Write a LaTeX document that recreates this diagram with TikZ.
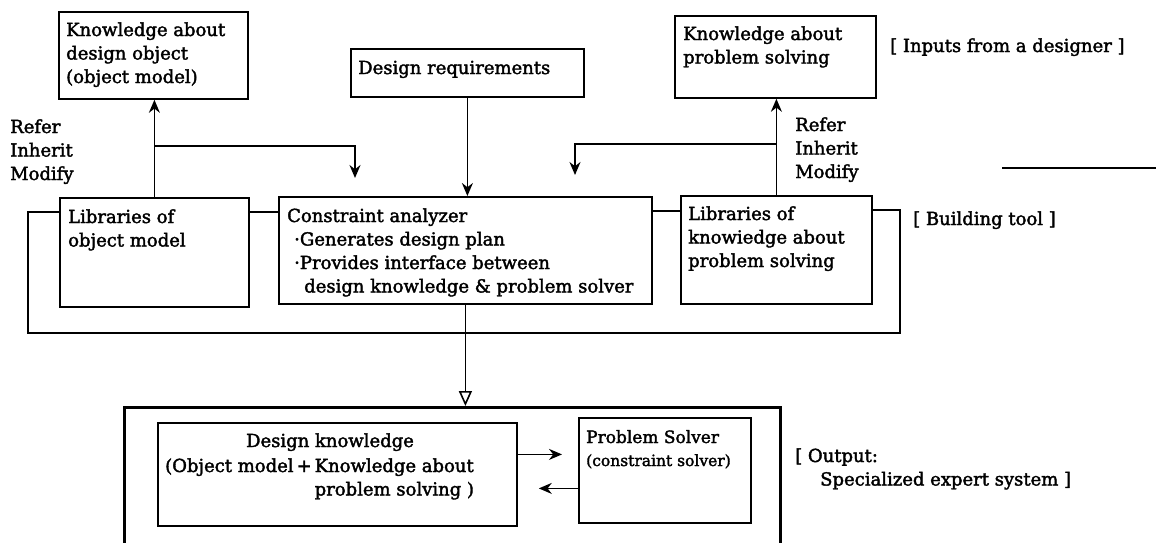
\documentclass[tikz,border=0pt]{standalone}
\usepackage{fontspec}
\setmainfont{DejaVu Serif}[FakeBold=2]
\usetikzlibrary{arrows.meta}
% multi-line text block whose base is the first line's baseline
\newcommand\ml[1]{\begin{tabular}[t]{@{}l@{}}#1\end{tabular}}
\begin{document}
\begin{tikzpicture}[x=1pt,y=-1pt,
  box/.style={draw,line width=1.8pt,rectangle,inner sep=0pt,anchor=north west},
  txt/.style={inner sep=0pt,anchor=base west,font=\fontsize{18}{23.5}\selectfont},
  link/.style={line width=1.7pt},
  arr/.style={line width=1.6pt,-{Stealth[length=13pt,width=11pt]}},
  hollow/.style={line width=1.6pt,-{Triangle[open,length=15pt,width=13pt,line width=1.6pt]}},
  loopline/.style={line width=2.4pt},
]
\useasboundingbox (0,0) rectangle (1156,542);
\clip (0,0) rectangle (1156,542);

% ---- boxes ----
\node[box,minimum width=189pt,minimum height=87pt]  (kobj) at (58,11)  {};
\node[box,minimum width=233pt,minimum height=48pt]  (req)  at (350,48) {};
\node[box,minimum width=201pt,minimum height=82pt]  (kps)  at (674,15) {};
\node[box,minimum width=189pt,minimum height=109pt] (libo) at (59,197) {};
\node[box,minimum width=373pt,minimum height=107pt] (ca)   at (278,196) {};
\node[box,minimum width=191pt,minimum height=108pt] (libp) at (680,195) {};
\node[box,line width=2.5pt,minimum width=656pt,minimum height=170pt] (out) at (123,406) {};
\node[box,minimum width=359pt,minimum height=103pt] (dk)   at (157,422) {};
\node[box,minimum width=172pt,minimum height=105pt] (ps)   at (578,417) {};

% ---- texts ----
\node[txt] (tkobj) at (66,36)  {\ml{Knowledge about\\design object\\(object model)}};
\node[txt] (rimo)  at (10,133) {\ml{Refer\\Inherit\\Modify}};
\node[txt] (treq)  at (358,74) {Design requirements};
\node[txt] (tkps)  at (683,40) {\ml{Knowledge about\\problem solving}};
\node[txt] (tin)   at (890,52) {[ Inputs from a designer ]};
\node[txt] (rimp)  at (795,131) {\ml{Refer\\Inherit\\Modify}};
\node[txt] (tlibo) at (68,223) {\ml{Libraries of\\object model}};
\node[txt] (tca)   at (287,222) {\ml{Constraint analyzer\\
  \hspace{7pt}·Generates design plan\\
  \hspace{7pt}·Provides interface between\\
  \hspace{17pt}design knowledge \& problem solver}};
\node[txt] (tlibp) at (688,220) {\ml{Libraries of\\knowiedge about\\problem solving}};
\node[txt] (tbt)   at (913,225) {[ Building tool ]};
\node[txt,anchor=base] (tdkh) at (330,447) {Design knowledge};
\node[txt] (tdk)   at (165,472) {\begin{tabular}[t]{@{}l@{}l@{}}(Object model\,+\,&Knowledge about\\ &problem solving~)\end{tabular}};
\node[txt,font=\fontsize{17}{23}\selectfont] (tps) at (586,443)
  {\ml{Problem Solver\\{\fontsize{15.5}{23}\selectfont(constraint solver)}}};
\node[txt] (tout)  at (795,462) {\ml{[ Output:\\\hspace{25pt}Specialized expert system ]}};

% ---- connectors ----
\coordinate (jo) at (153,146);
\coordinate (to) at (355,178);
\coordinate (jp) at (772,144);
\coordinate (tp) at (575,175);

\draw[arr] (libo.north) -- (libo.north |- kobj.south);
\draw[arr] (jo -| libo.north) -| (to);
\draw[arr] (req.south) -- (req.south |- ca.north);
\draw[arr] (libp.north) -- (libp.north |- kps.south);
\draw[arr] (jp -| libp.north) -| (tp);

\draw[link] ([yshift=-15pt]libo.north east) -- ([yshift=-15pt]libo.north east -| ca.west);
\draw[link] ([yshift=-15pt]ca.north east) -- ([yshift=-15pt]ca.north east -| libp.west);

% building-tool enclosure
\draw[loopline] ([yshift=-15pt]libp.north east) -| (900,333) -| (28,212)
  -- ([yshift=-15pt]libo.north west);

\draw[hollow] (ca.south) -- (ca.south |- out.north);

\draw[arr,shorten >=16pt] ([yshift=20pt]dk.east) -- ([yshift=20pt]dk.east -| ps.west);
\draw[arr,shorten >=21pt] ([yshift=-18pt]ps.west) -- ([yshift=-18pt]ps.west -| dk.east);

% short rule at the right margin
\draw[link] (1002,168) -- (1156,168);
\end{tikzpicture}
\end{document}
